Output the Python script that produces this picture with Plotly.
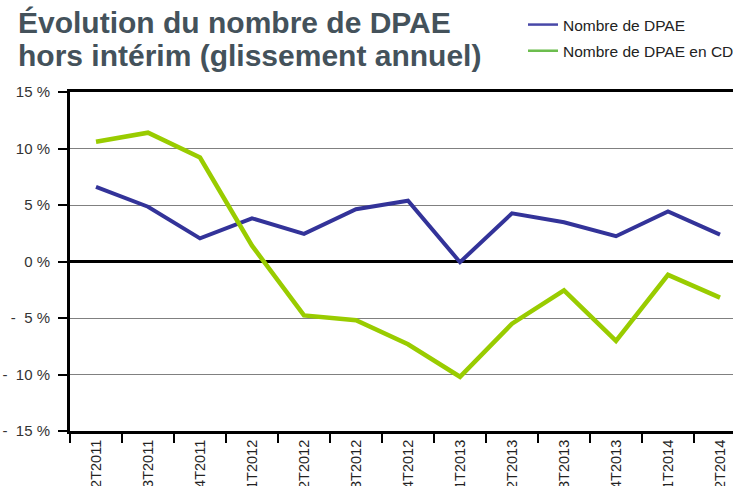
import plotly.graph_objects as go

categories = ["2T2011", "3T2011", "4T2011", "1T2012", "2T2012", "3T2012", "4T2012",
              "1T2013", "2T2013", "3T2013", "4T2013", "1T2014", "2T2014"]
dpae = [6.6, 4.85, 2.05, 3.82, 2.44, 4.62, 5.38, -0.06, 4.26, 3.47, 2.24, 4.44, 2.38]
dpae_cdi = [10.6, 11.4, 9.2, 1.4, -4.77, -5.2, -7.33, -10.2, -5.5, -2.56, -7.03, -1.18, -3.2]
y_tickvals = [15, 10, 5, 0, -5, -10, -15]
y_ticktext = ["15 %", "10 %", "5 %", "0 %",
              "-\u00a0\u00a05 %", "-\u00a0\u00a010 %", "-\u00a0\u00a015 %"]
title_lines = ["Évolution du nombre de DPAE", "hors intérim (glissement annuel)"]
series_names = ["Nombre de DPAE", "Nombre de DPAE en CDI"]

BLUE = "#333399"
GREEN = "#99CC00"
BLUE_KEY = "#4848a8"
GREEN_KEY = "#6cbd4e"
FONT = "Liberation Sans, Arial, sans-serif"

W, H = 733, 486
L, T, PH = 70, 92, 339
PW = W - L

def py(fig_y):
    return 1 + (T - fig_y) / PH

def px(fig_x):
    return (fig_x - L) / PW

fig = go.Figure()
fig.add_trace(go.Scatter(x=categories, y=dpae, mode="lines", name=series_names[0],
                         line=dict(color=BLUE, width=4), showlegend=False))
fig.add_trace(go.Scatter(x=categories, y=dpae_cdi, mode="lines", name=series_names[1],
                         line=dict(color=GREEN, width=4.5), showlegend=False))
# legend keys (the reference uses thinner, lighter key lines)
fig.add_trace(go.Scatter(x=[None], y=[None], mode="lines", name=series_names[0],
                         line=dict(color=BLUE_KEY, width=2.5), legendgroup="a"))
fig.add_trace(go.Scatter(x=[None], y=[None], mode="lines", name=series_names[1],
                         line=dict(color=GREEN_KEY, width=2.5), legendgroup="b"))

for txt, top in zip(title_lines, [5, 37.7]):
    fig.add_annotation(text="<b>%s</b>" % txt, xref="paper", yref="paper",
                       x=px(17), y=py(top), xanchor="left", yanchor="top",
                       showarrow=False, borderpad=0,
                       font=dict(family=FONT, size=30, color="#44525b"))

fig.update_layout(
    width=W, height=H,
    margin=dict(l=L, r=0, t=T, b=H - T - PH, autoexpand=False),
    paper_bgcolor="white", plot_bgcolor="white",
    font=dict(family=FONT, size=15, color="#222222"),
    showlegend=True,
    legend=dict(x=px(523), xanchor="left", y=py(8), yanchor="top",
                bgcolor="rgba(0,0,0,0)", font=dict(size=15.5, color="#222222"),
                tracegroupgap=3, itemwidth=30),
    xaxis=dict(type="category", range=[-0.5, 12.25], showgrid=False,
               showline=True, linecolor="black", linewidth=3, mirror=True,
               ticks="outside", tickson="boundaries", ticklen=9, tickwidth=2, tickcolor="black",
               tickangle=-90, tickfont=dict(size=14.5, color="#222222"), automargin=False),
    yaxis=dict(range=[-15, 15], tickvals=y_tickvals, ticktext=y_ticktext,
               showgrid=True, gridcolor="#808080", gridwidth=1,
               zeroline=True, zerolinecolor="black", zerolinewidth=3,
               showline=True, linecolor="black", linewidth=3,
               ticks="outside", ticklen=9, tickwidth=2, tickcolor="black",
               ticklabelstandoff=5,
               tickfont=dict(size=15, color="#333333"), automargin=False),
)

fig.write_html("out.html", config={"displayModeBar": False},
               post_script="document.body.style.margin='0';document.body.style.overflow='hidden';")
